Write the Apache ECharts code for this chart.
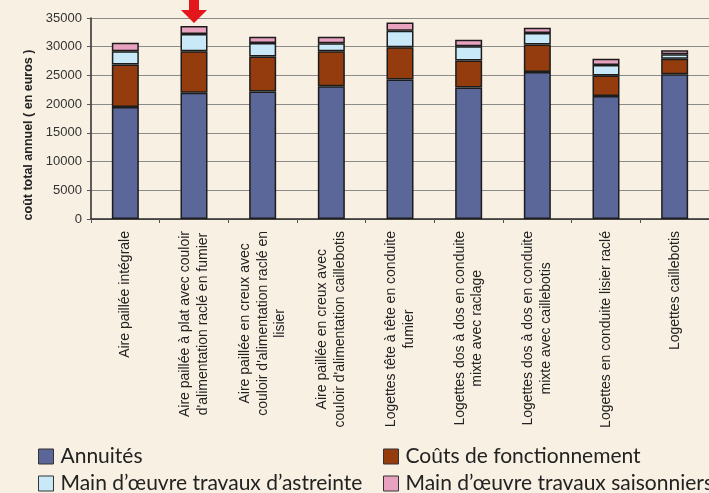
<!DOCTYPE html>
<html>
<head>
<meta charset="utf-8">
<script src="https://cdn.jsdelivr.net/npm/echarts@6/dist/echarts.min.js"></script>
<style>
html,body{margin:0;padding:0;background:#F8F0E2;}
#chart{width:709px;height:493px;}
</style>
</head>
<body>
<div id="chart"></div>
<script>
const categories = [
  "Aire paillée intégrale",
  "Aire paillée à plat avec couloir\nd'alimentation raclé en fumier",
  "Aire paillée en creux avec\ncouloir d'alimentation raclé en\nlisier",
  "Aire paillée en creux avec\ncouloir d'alimentation caillebotis",
  "Logettes tête à tête en conduite\nfumier",
  "Logettes dos à dos en conduite\nmixte avec raclage",
  "Logettes dos à dos en conduite\nmixte avec caillebotis",
  "Logettes en conduite lisier raclé",
  "Logettes caillebotis"
];
const annuites   = [19500, 22000, 22200, 23100, 24300, 22900, 25600, 21400, 25200];
const couts      = [7400, 7200, 6100, 6100, 5600, 4700, 4800, 3600, 2700];
const astreinte  = [2300, 3000, 2350, 1400, 2900, 2500, 2000, 1800, 800];
const saison     = [1500, 1400, 1100, 1150, 1400, 1100, 900, 1100, 700];
const seriesNames = ["Annuités", "Coûts de fonctionnement", "Main d’œuvre travaux d’astreinte", "Main d’œuvre travaux saisonniers"];
const colors = ["#5B6699", "#943C0E", "#C9E9F9", "#E8A2BF"];
const yTicks = { min: 0, max: 35000, interval: 5000 };
const highlightIndex = 1;

const totals = categories.map((c, i) => annuites[i] + couts[i] + astreinte[i] + saison[i]);
const dataSets = [annuites, couts, astreinte, saison];
const sansFont = "'Liberation Sans', Arial, sans-serif";

const chart = echarts.init(document.getElementById('chart'));
const series = dataSets.map((d, k) => {
  const s = {
    name: seriesNames[k],
    type: 'bar',
    stack: 'total',
    barWidth: 27,
    data: d,
    itemStyle: { color: colors[k], borderColor: '#1c1c1c', borderWidth: 1.5 },
    emphasis: { disabled: true }
  };
  if (k === 3) {
    s.markPoint = {
      silent: true,
      symbol: 'path://M8,0 L18,0 L18,13 L26,13 L13,26 L0,13 L8,13 Z',
      symbolSize: [26, 26],
      symbolOffset: [0, -16],
      itemStyle: { color: '#E2161B' },
      label: { show: false },
      data: [{ coord: [categories[highlightIndex], totals[highlightIndex]] }]
    };
  }
  return s;
});

const legendPos = [
  { left: 38, top: 446 },
  { left: 383, top: 446 },
  { left: 38, top: 473 },
  { left: 383, top: 473 }
];
const legends = seriesNames.map((n, k) => ({
  data: [n],
  left: legendPos[k].left,
  top: legendPos[k].top,
  padding: 0,
  itemWidth: 15,
  itemHeight: 15,
  icon: 'rect',
  selectedMode: false,
  itemStyle: { borderColor: '#333', borderWidth: 1 },
  textStyle: { fontFamily: 'Lato', fontSize: 21, color: '#222', padding: [0, 0, 0, 2] }
}));

chart.setOption({
  backgroundColor: '#F8F0E2',
  animation: false,
  color: colors,
  legend: legends,
  grid: { left: 91, top: 18, right: -7, bottom: 274, containLabel: false },
  xAxis: {
    type: 'category',
    data: categories,
    axisLine: { lineStyle: { color: '#2a2a2a', width: 1.5 } },
    axisTick: { show: true, length: 4, interval: 0, lineStyle: { color: '#555' } },
    axisLabel: {
      interval: 0,
      rotate: 90,
      margin: 12,
      fontFamily: sansFont,
      fontSize: 14,
      lineHeight: 17.5,
      color: '#222',
      formatter: v => v.split('\n').map(l => '{c|' + l + '}').join('\n'),
      rich: { c: { align: 'center', fontFamily: sansFont, fontSize: 14, lineHeight: 17.5, color: '#222' } }
    }
  },
  yAxis: {
    type: 'value',
    min: yTicks.min,
    max: yTicks.max,
    interval: yTicks.interval,
    name: 'coût total annuel ( en euros )',
    nameLocation: 'middle',
    nameRotate: 90,
    nameGap: 53,
    nameTextStyle: { fontFamily: sansFont, fontSize: 12.5, fontWeight: 'bold', color: '#222', padding: [0, 33, 0, 0] },
    axisLine: { show: true, lineStyle: { color: '#2a2a2a', width: 1.5 } },
    axisTick: { show: true, length: 4, lineStyle: { color: '#555' } },
    axisLabel: { margin: 9, fontFamily: sansFont, fontSize: 13, color: '#333', formatter: v => String(v) },
    splitLine: { lineStyle: { color: '#8a8a8a', width: 1 } }
  },
  series: series
});
</script>
</body>
</html>
